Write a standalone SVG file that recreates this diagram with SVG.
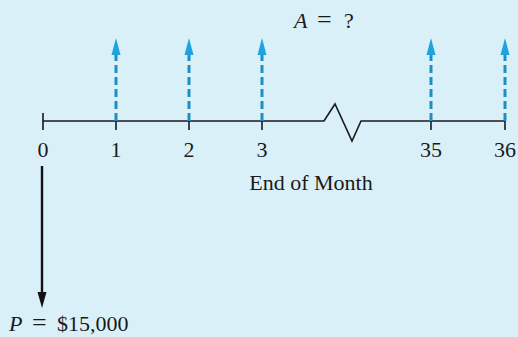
<svg xmlns="http://www.w3.org/2000/svg" width="518" height="337" viewBox="0 0 518 337">
<defs>
<style>
text{font-family:"Liberation Serif","Times New Roman",serif;font-size:22px;fill:#1a1a1a}
.lbl{text-anchor:middle}
.tl{stroke:#1a1a1a;stroke-width:1.6;fill:none}
.dash{stroke:#1d8fc4;stroke-width:3;stroke-dasharray:8 4;fill:none}
.bh{fill:#1ea3dc}
</style>
</defs>
<rect width="518" height="337" fill="#daf0f8"/>
<g id="connectors">
<path class="tl" d="M43,121 H324 L335,104 L352,141 L361,121 H505"/>
<path class="tl" d="M43,113 V130 M116,121 V130 M189,121 V130 M262,121 V130 M431,121 V130 M505,121 V130"/>
<g id="receipts">
<path class="dash" d="M116,121 V53"/>
<polygon class="bh" points="116,38 111.5,55 120.5,55"/>
<path class="dash" d="M189,121 V53"/>
<polygon class="bh" points="189,38 184.5,55 193.5,55"/>
<path class="dash" d="M262,121 V53"/>
<polygon class="bh" points="262,38 257.5,55 266.5,55"/>
<path class="dash" d="M431,121 V53"/>
<polygon class="bh" points="431,38 426.5,55 435.5,55"/>
<path class="dash" d="M505,121 V53"/>
<polygon class="bh" points="505,38 500.5,55 509.5,55"/>
</g>
<g id="payment">
<path d="M42,166 V294" stroke="#111" stroke-width="2.4" fill="none"/>
<polygon points="42,308 37.5,292 46.5,292" fill="#111"/>
</g>
</g>
<g id="labels">
<text class="lbl" x="43" y="157">0</text>
<text class="lbl" x="116" y="157">1</text>
<text class="lbl" x="189" y="157">2</text>
<text class="lbl" x="262" y="157">3</text>
<text class="lbl" x="431" y="157">35</text>
<text class="lbl" x="505" y="157">36</text>
<text class="lbl" x="311" y="190">End of Month</text>
<text y="28"><tspan x="294" font-style="italic">A</tspan><tspan x="317" font-size="26">=</tspan><tspan x="344">?</tspan></text>
<text y="331" font-size="23"><tspan x="9" font-style="italic">P</tspan><tspan x="32" font-size="26">=</tspan><tspan x="57">$15,000</tspan></text>
</g>
</svg>
